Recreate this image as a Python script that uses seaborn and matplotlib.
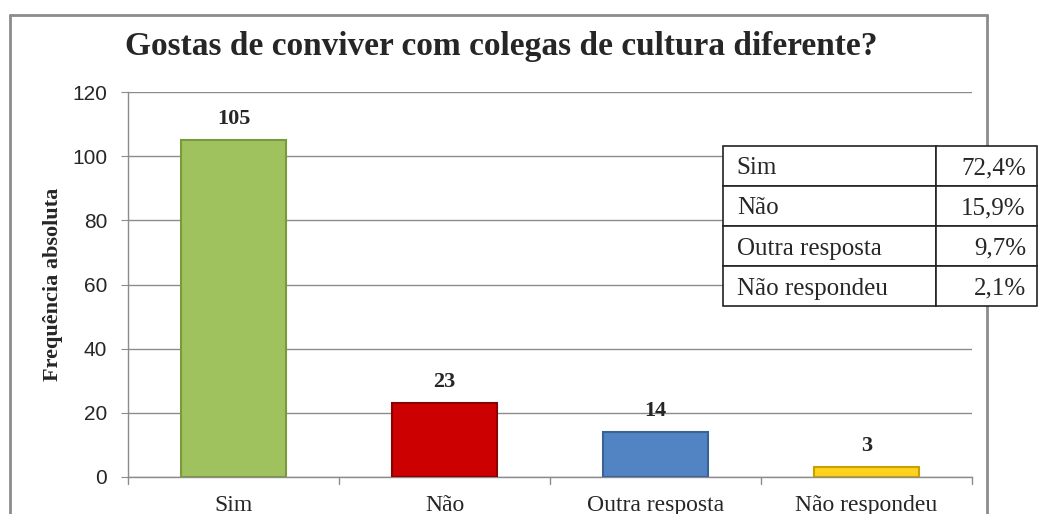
import seaborn as sns
import pandas as pd
import matplotlib.pyplot as plt
from matplotlib.lines import Line2D

# Data
categorias = ['Sim', 'Não', 'Outra resposta', 'Não respondeu']
frequencias = [105, 23, 14, 3]
percentagens = ['72,4%', '15,9%', '9,7%', '2,1%']
cores = ['#A0C25E', '#CC0000', '#5283C2', '#FFD21F']
bordas = ['#7A9A3E', '#8B0000', '#3A6296', '#C8A000']

df = pd.DataFrame({'resposta': categorias, 'freq': frequencias})

sns.set_style('white')
plt.rcParams['font.family'] = ['Liberation Serif', 'DejaVu Serif']

fig = plt.figure(figsize=(10.54, 5.14), dpi=100)
ax = fig.add_axes([128 / 1054, 1 - 477 / 514, 844 / 1054, 385 / 514])

sns.barplot(data=df, x='resposta', y='freq', hue='resposta', palette=cores,
            width=0.5, saturation=1, legend=False, ax=ax, zorder=3)
for patch, ec in zip(ax.patches, bordas):
    patch.set_edgecolor(ec)
    patch.set_linewidth(1.5)

ax.set_ylim(0, 120)
ax.set_xlim(-0.5, len(categorias) - 0.5)
ax.set_yticks(range(0, 121, 20))
ax.yaxis.grid(True, color='#8C8C8C', linewidth=1, zorder=0)
ax.set_axisbelow(True)

for lbl in ax.get_yticklabels():
    lbl.set_fontfamily('Liberation Sans')
    lbl.set_fontsize(15)
ax.set_xticks(range(len(categorias)))
ax.set_xticklabels(categorias, fontsize=17)
ax.tick_params(axis='x', length=0, pad=13)
ax.tick_params(axis='y', length=5, color='#8C8C8C', left=True, pad=10)

# category boundary ticks on the x axis
for b in [k - 0.5 for k in range(len(categorias) + 1)]:
    ax.plot([b, b], [0, -2.2], color='#8C8C8C', lw=1, clip_on=False)

for s in ['top', 'right']:
    ax.spines[s].set_visible(False)
for s in ['left', 'bottom']:
    ax.spines[s].set_color('#8C8C8C')
    ax.spines[s].set_linewidth(1)

ax.set_xlabel('')
ax.set_ylabel('Frequência absoluta', fontsize=16, fontweight='bold')
ax.yaxis.set_label_coords(-0.077, 0.5)

for i, v in enumerate(frequencias):
    ax.text(i, v + 3.5, str(v), ha='center', va='bottom', fontsize=16, fontweight='bold')

fig.text(0.476, 1 - 47 / 514, 'Gostas de conviver com colegas de cultura diferente?',
         ha='center', va='center', fontsize=24, fontweight='bold')

# outer chart frame (left, top, right)
x0, x1, yt = 10 / 1054, 987 / 1054, 1 - 15 / 514
fcol = '#8C8C8C'
for xs, ys in [([x0, x1], [yt, yt]), ([x0, x0], [yt, 0]), ([x1, x1], [yt, 0])]:
    fig.add_artist(Line2D(xs, ys, color=fcol, lw=2, zorder=1))

# percentage table
tax = fig.add_axes([723 / 1054, 1 - 306 / 514, 314 / 1054, 160 / 514])
tax.set_zorder(10)
tax.axis('off')
tabela = tax.table(cellText=[[c, p] for c, p in zip(categorias, percentagens)],
                   colWidths=[213 / 314, 101 / 314], bbox=[0, 0, 1, 1])
tabela.auto_set_font_size(False)
for (r, c), cell in tabela.get_celld().items():
    cell.set_edgecolor('#222222')
    cell.set_linewidth(1.2)
    cell.set_facecolor('white')
    txt = cell.get_text()
    txt.set_fontsize(18)
    txt.set_fontfamily('Liberation Serif')
    txt.set_va('center_baseline')
    if c == 0:
        cell.set_text_props(ha='left')
        cell.PAD = 0.065
    else:
        cell.set_text_props(ha='right')
        cell.PAD = 0.11

fig.savefig('out.png', dpi=100)
